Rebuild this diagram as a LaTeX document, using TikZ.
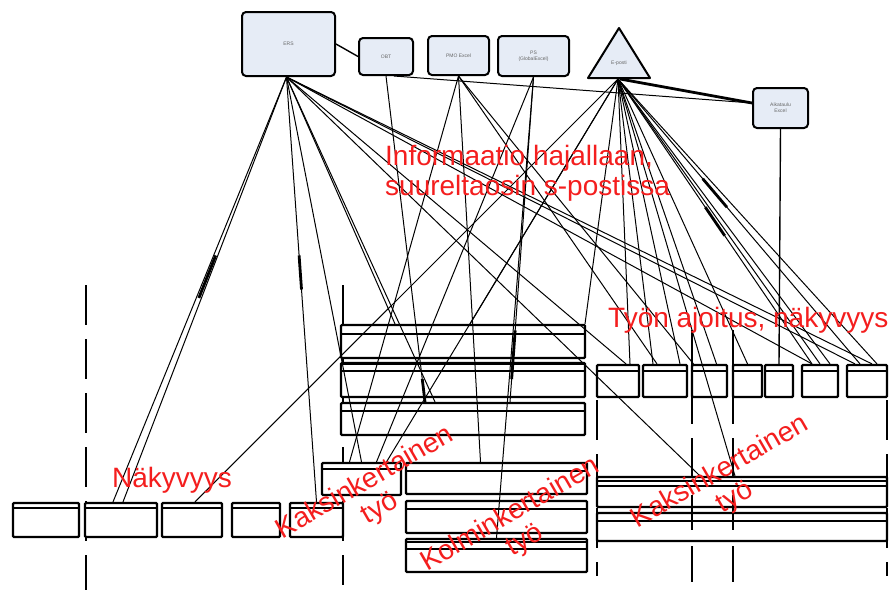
\documentclass[tikz,border=0pt]{standalone}
\usepackage{fontspec}
\setmainfont{Liberation Sans}
\usetikzlibrary{calc}
\definecolor{topfill}{HTML}{E6ECF6}
\definecolor{redtxt}{HTML}{F41E1E}
\begin{document}
\begin{tikzpicture}[x=1pt,y=-1pt,
  topbox/.style={draw,line width=2pt,rounded corners=4pt,fill=topfill,inner sep=1pt,
    font=\fontsize{5}{6}\selectfont,text=black!60,align=center},
  lanebox/.style={draw,line width=2.2pt,rounded corners=1pt,fill=white,inner sep=0pt},
  hdr/.style={line width=1.6pt},
  conn/.style={line width=1pt},
  fat/.style={line width=2.8pt},
  vdash/.style={line width=1.5pt,dash pattern=on 40pt off 14pt},
  redlabel/.style={text=redtxt,font=\fontsize{28}{30}\selectfont,inner sep=0pt}
]
\useasboundingbox (0,0) rectangle (889,595);
\fill[white] (0,0) rectangle (889,595);

% ---------- dashed vertical lines ----------
\draw[vdash] (86,285) -- (86,590);
\draw[vdash] (343,285) -- (343,585);
\draw[vdash] (597,400) -- (597,576);
\draw[vdash] (692,330) -- (692,582);
\draw[vdash] (733,330) -- (733,582);
\draw[vdash] (887,400) -- (887,576);

% ---------- top nodes ----------
\node[topbox,minimum width=93pt,minimum height=64pt] (ers) at (288.5,44) {ERS};
\node[topbox,minimum width=54pt,minimum height=37pt] (obt) at (386,56.5) {OBT};
\node[topbox,minimum width=61pt,minimum height=39pt] (pmo) at (458.5,55.5) {PMO Excel};
\node[topbox,minimum width=71pt,minimum height=40pt] (ps) at (533.5,56) {PS\\(GlobalExcel)};
\draw[line width=2pt,fill=topfill,line join=round] (619,28) -- (650,78) -- (588,78) -- cycle;
\node[font=\fontsize{5}{6}\selectfont,text=black!60,inner sep=0pt] (tri) at (619,63) {E-posti};
\coordinate (trib) at (618,79);
\node[topbox,minimum width=55pt,minimum height=40pt] (aik) at (780.5,108) {Aikataulu\\Excel};

% ---------- lower boxes ----------
% middle stack
\node[lanebox,minimum width=244pt,minimum height=33pt] (A) at (463,341.5) {};
\node[lanebox,minimum width=244pt,minimum height=34pt] (B) at (463,380) {};
\node[lanebox,minimum width=244pt,minimum height=32pt] (C) at (463,419) {};
\draw[hdr] ([yshift=-10pt]A.north west) -- ([yshift=-10pt]A.north east);
\draw[hdr] ([yshift=-2pt]B.north west) -- ([yshift=-2pt]B.north east);
\draw[line width=2.2pt] ([yshift=-9pt]B.north west) -- ([yshift=-9pt]B.north east);
\draw[hdr] ([yshift=-9pt]C.north west) -- ([yshift=-9pt]C.north east);
% right row
\foreach \n/\xa/\xb in {r1/597/639,r2/643/687,r3/692/727,r4/733/762,r5/765/793,r6/802/838,r7/847/887}{
  \node[lanebox,minimum width=\xb-\xa,minimum height=32pt] (\n) at ({(\xa+\xb)/2},381) {};
  \draw[hdr] ([yshift=-7pt]\n.north west) -- ([yshift=-7pt]\n.north east);
}
% left row
\foreach \n/\xa/\xb in {l1/13/79,l2/85/157,l3/162/222,l4/232/280,l5/290/343}{
  \node[lanebox,minimum width=\xb-\xa,minimum height=34pt] (\n) at ({(\xa+\xb)/2},520) {};
  \draw[hdr] ([yshift=-6pt]\n.north west) -- ([yshift=-6pt]\n.north east);
}
% middle bottom
\node[lanebox,minimum width=79pt,minimum height=32pt] (D) at (361.5,479) {};
\draw[hdr] ([yshift=-7pt]D.north west) -- ([yshift=-7pt]D.north east);
\node[lanebox,minimum width=181pt,minimum height=31pt] (E) at (496.5,478.5) {};
\draw[hdr] ([yshift=-9pt]E.north west) -- ([yshift=-9pt]E.north east);
\node[lanebox,minimum width=181pt,minimum height=32pt] (F) at (496.5,517) {};
\draw[hdr] ([yshift=-9pt]F.north west) -- ([yshift=-9pt]F.north east);
\node[lanebox,minimum width=181pt,minimum height=33pt] (G) at (496.5,555.5) {};
\draw[hdr] ([yshift=-4pt]G.north west) -- ([yshift=-4pt]G.north east);
\draw[hdr] ([yshift=-11pt]G.north west) -- ([yshift=-11pt]G.north east);
% right bottom
\node[lanebox,minimum width=290pt,minimum height=30pt] (H) at (742,492) {};
\draw[hdr] ([yshift=-5pt]H.north west) -- ([yshift=-5pt]H.north east);
\draw[hdr] ([yshift=-10pt]H.north west) -- ([yshift=-10pt]H.north east);
\node[lanebox,minimum width=290pt,minimum height=28pt] (I) at (742,527) {};
\draw[hdr] ([yshift=-9pt]I.north west) -- ([yshift=-9pt]I.north east);
\draw[vdash] (692,495) -- (692,530);
\draw[vdash] (733,495) -- (733,530);

% ---------- connectors ----------
\draw[conn,line width=1.4pt] (ers.east) -- (obt.west);
% from ERS
\coordinate (es) at ([xshift=-2pt]ers.south);
\draw[conn] (es) -- ([xshift=-8pt]l2.north);
\draw[conn] (es) -- ([xshift=2pt]l2.north);
\draw[fat] ($(es)!0.42!([xshift=-3pt]l2.north)$) -- ($(es)!0.52!([xshift=-3pt]l2.north)$);
\draw[conn] (es) -- (l5.north);
\draw[fat] ($(es)!0.42!(l5.north)$) -- ($(es)!0.50!(l5.north)$);
\draw[conn] (es) -- (D.north);
\draw[conn] (es) -- ([xshift=-68pt]A.north);
\draw[conn] (es) -- ([xshift=-28pt]C.north);
\draw[conn] (es) -- ([xshift=8pt]r1.north);
\draw[conn] (es) -- ([xshift=-42pt]H.north);
\draw[conn] (es) -- ([xshift=-8pt]r6.north);
\draw[conn] (es) -- ([xshift=-12pt]r7.north);
\draw[conn] (es) -- ([xshift=5pt]r7.north);
% from OBT
\draw[conn] (obt.south) -- ([xshift=-38pt]C.north);
\draw[fat] ($(obt.south)!0.93!([xshift=-38pt]C.north)$) -- ([xshift=-38pt]C.north);
\draw[conn] ([xshift=8pt]obt.south) -- ([yshift=5pt]aik.west);
% from PMO
\draw[conn] (pmo.south) -- ([xshift=-12pt]D.north);
\draw[conn] (pmo.south) -- ([xshift=-16pt]E.north);
\draw[conn] (pmo.south) -- ([xshift=-16pt]r3.north);
\draw[conn] (pmo.south) -- ([xshift=-8pt]r2.north);
% from PS
\draw[conn] (ps.south) -- ([xshift=47pt]C.north);
\draw[fat] ($(ps.south)!0.78!([xshift=47pt]C.north)$) -- ($(ps.south)!0.93!([xshift=47pt]C.north)$);
\draw[conn] (ps.south) -- (G.north);
\draw[conn] (ps.south) -- ([xshift=15pt]D.north);
% from triangle
\draw[conn] (trib) -- ([xshift=3pt]l3.north);
\draw[conn] (trib) -- ([xshift=25pt]D.north);
\draw[conn] (trib) -- ([xshift=7pt]A.north);
\draw[conn] (trib) -- ([xshift=12pt]r1.north);
\draw[conn] (trib) -- ([xshift=-12pt]r2.north);
\draw[conn] (trib) -- ([xshift=15pt]r2.north);
\draw[conn] (trib) -- ([xshift=7pt]r3.north);
\draw[conn] (trib) -- (r4.north);
\draw[conn] (trib) -- (r6.north);
\draw[conn] (trib) -- ([xshift=10pt]r6.north);
\draw[conn] (trib) -- ([xshift=-7pt]r7.north);
\draw[conn] (trib) -- ([xshift=10pt]r7.north);
\draw[conn] (trib) -- ([xshift=-7pt]H.north);
\draw[conn] (trib) -- ([xshift=122pt]A.north);
\draw[fat] ([xshift=2pt]trib) -- ([yshift=5pt]aik.west);
\draw[fat] ($(trib)!0.45!([xshift=-8pt]r6.north)$) -- ($(trib)!0.55!([xshift=-8pt]r6.north)$);
\draw[fat] ($(trib)!0.35!([xshift=-7pt]r7.north)$) -- ($(trib)!0.45!([xshift=-7pt]r7.north)$);
\draw[conn] (trib) -- ([xshift=-8pt]r6.north);
% from Aikataulu
\draw[conn,line width=1.4pt] (aik.south) -- (r5.north);

% ---------- red annotations ----------
\node[redlabel,anchor=base west] (t1) at (385,165) {Informaatio hajallaan,};
\node[redlabel,anchor=base west] (t2) at (385,195) {suureltaosin s-postissa};
\node[redlabel,anchor=base west] (t3) at (608,327) {Työn ajoitus, näkyvyys};
\node[redlabel,anchor=base west] (t4) at (112,487) {Näkyvyys};
\node[redlabel,align=center,rotate=30] (t5) at (373,496) {Kaksinkertainen\\työ};
\node[redlabel,align=center,rotate=30] (t6) at (518,528) {Kolminkertainen\\työ};
\node[redlabel,align=center,rotate=30] (t7) at (728,485) {Kaksinkertainen\\työ};
\end{tikzpicture}
\end{document}
